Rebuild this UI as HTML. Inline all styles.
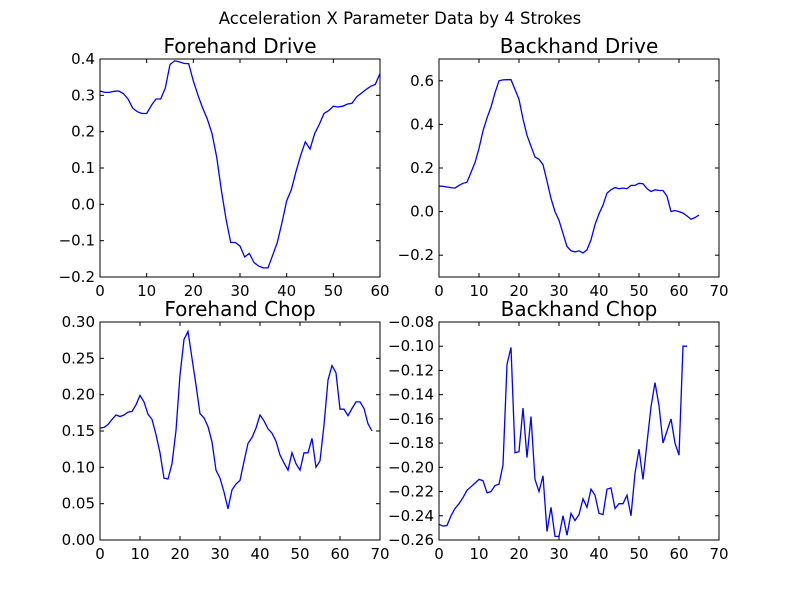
<!DOCTYPE html>
<html><head><meta charset="utf-8"><style>body{margin:0;background:#fff}svg{display:block}text{font-family:"DejaVu Sans","Liberation Sans",sans-serif}</style></head>
<body>
<svg id="c" width="800" height="600">
<rect width="800" height="600" fill="#fff"/>
<text x="400" y="24" font-size="16.5" text-anchor="middle">Acceleration X Parameter Data by 4 Strokes</text>
</svg>
<script>
const forehandDrive=[0.312,0.308,0.308,0.311,0.312,0.305,0.29,0.265,0.255,0.25,0.25,0.272,0.29,0.29,0.32,0.385,0.395,0.392,0.388,0.387,0.34,0.30,0.265,0.235,0.195,0.13,0.04,-0.04,-0.105,-0.105,-0.115,-0.145,-0.135,-0.16,-0.17,-0.175,-0.175,-0.14,-0.105,-0.05,0.01,0.04,0.09,0.135,0.172,0.152,0.195,0.22,0.25,0.258,0.27,0.268,0.27,0.276,0.278,0.296,0.306,0.316,0.325,0.33,0.36];
const backhandDrive=[0.117,0.116,0.113,0.11,0.108,0.12,0.13,0.135,0.18,0.225,0.29,0.37,0.43,0.48,0.545,0.6,0.604,0.605,0.605,0.56,0.515,0.425,0.35,0.3,0.25,0.24,0.215,0.14,0.06,0.0,-0.04,-0.1,-0.16,-0.18,-0.185,-0.18,-0.19,-0.175,-0.13,-0.06,-0.01,0.03,0.085,0.1,0.11,0.105,0.108,0.105,0.12,0.12,0.13,0.128,0.105,0.092,0.1,0.097,0.097,0.07,0.0,0.005,0.0,-0.007,-0.02,-0.035,-0.027,-0.016];
const forehandChop=[0.154,0.155,0.159,0.166,0.172,0.170,0.172,0.176,0.177,0.186,0.199,0.19,0.173,0.166,0.145,0.12,0.085,0.084,0.105,0.151,0.227,0.276,0.287,0.25,0.213,0.174,0.168,0.156,0.135,0.096,0.085,0.066,0.043,0.069,0.077,0.082,0.108,0.133,0.141,0.154,0.172,0.164,0.153,0.147,0.136,0.117,0.106,0.096,0.12,0.105,0.096,0.12,0.12,0.14,0.1,0.109,0.158,0.22,0.24,0.23,0.18,0.18,0.171,0.181,0.19,0.19,0.181,0.16,0.15];
const backhandChop=[-0.247,-0.2485,-0.248,-0.240,-0.234,-0.230,-0.225,-0.219,-0.216,-0.213,-0.210,-0.211,-0.221,-0.220,-0.215,-0.214,-0.198,-0.115,-0.101,-0.188,-0.187,-0.151,-0.192,-0.158,-0.210,-0.220,-0.207,-0.253,-0.233,-0.257,-0.257,-0.240,-0.256,-0.238,-0.244,-0.239,-0.226,-0.233,-0.218,-0.223,-0.238,-0.239,-0.218,-0.217,-0.234,-0.230,-0.230,-0.223,-0.240,-0.205,-0.185,-0.210,-0.180,-0.150,-0.130,-0.149,-0.180,-0.170,-0.160,-0.180,-0.190,-0.100,-0.100];
const titles=["Forehand Drive","Backhand Drive","Forehand Chop","Backhand Chop"];
const xTicksA=[0,10,20,30,40,50,60];
const xTicksB=[0,10,20,30,40,50,60,70];
const yTicksFD=[-0.2,-0.1,0,0.1,0.2,0.3,0.4];
const yTicksBD=[-0.2,0,0.2,0.4,0.6];
const yTicksFC=[0,0.05,0.1,0.15,0.2,0.25,0.3];
const yTicksBC=[-0.26,-0.24,-0.22,-0.2,-0.18,-0.16,-0.14,-0.12,-0.1,-0.08];
const NS="http://www.w3.org/2000/svg";
const svg=document.getElementById('c');
function mk(t,a,p){const e=document.createElementNS(NS,t);for(const k in a)e.setAttribute(k,a[k]);(p||svg).appendChild(e);return e;}
function fmt(v,d){const s=Math.abs(v).toFixed(d);return (v<-1e-9?"\u2212":"")+s;}
const panels=[
 {d:forehandDrive,x0:100,y0:59,xmax:60,ymin:-0.2,ymax:0.4,xt:xTicksA,yt:yTicksFD,dec:1,name:"forehand-drive"},
 {d:backhandDrive,x0:439,y0:59,xmax:70,ymin:-0.3,ymax:0.7,xt:xTicksB,yt:yTicksBD,dec:1,name:"backhand-drive"},
 {d:forehandChop,x0:100,y0:322,xmax:70,ymin:0,ymax:0.3,xt:xTicksB,yt:yTicksFC,dec:2,name:"forehand-chop"},
 {d:backhandChop,x0:439,y0:322,xmax:70,ymin:-0.26,ymax:-0.08,xt:xTicksB,yt:yTicksBC,dec:2,name:"backhand-chop"}];
const W=280,H=218;
panels.forEach((p,i)=>{
 const g=mk('g',{});
 
 
 const sx=v=>p.x0+v/p.xmax*W, sy=v=>p.y0+H-(v-p.ymin)/(p.ymax-p.ymin)*H;
 const t=mk('text',{x:p.x0+W/2,y:p.y0-6,'font-size':20,'text-anchor':'middle'},g);t.textContent=titles[i];
 
 
 const line=mk('polyline',{points:p.d.map((v,j)=>sx(j).toFixed(1)+','+sy(v).toFixed(1)).join(' '),fill:'none',stroke:'#0000ff','stroke-width':1.3},g);
 
 
 p.xt.forEach(v=>{const x=sx(v);
  mk('line',{x1:x,x2:x,y1:p.y0+H,y2:p.y0+H-4,stroke:'#000'},g);
  mk('line',{x1:x,x2:x,y1:p.y0,y2:p.y0+4,stroke:'#000'},g);
  const l=mk('text',{x:x,y:p.y0+H+19,'font-size':15,'text-anchor':'middle'},g);l.textContent=String(v);
  
  });
 p.yt.forEach(v=>{const y=sy(v);
  mk('line',{x1:p.x0,x2:p.x0+4,y1:y,y2:y,stroke:'#000'},g);
  mk('line',{x1:p.x0+W,x2:p.x0+W-4,y1:y,y2:y,stroke:'#000'},g);
  const l=mk('text',{x:p.x0-5,y:y+5,'font-size':15,'text-anchor':'end'},g);l.textContent=fmt(v,p.dec);
  
  });
 const r=mk('rect',{x:p.x0,y:p.y0,width:W,height:H,fill:'none',stroke:'#000','stroke-width':1},g);
 
 
});
</script>
</body></html>
